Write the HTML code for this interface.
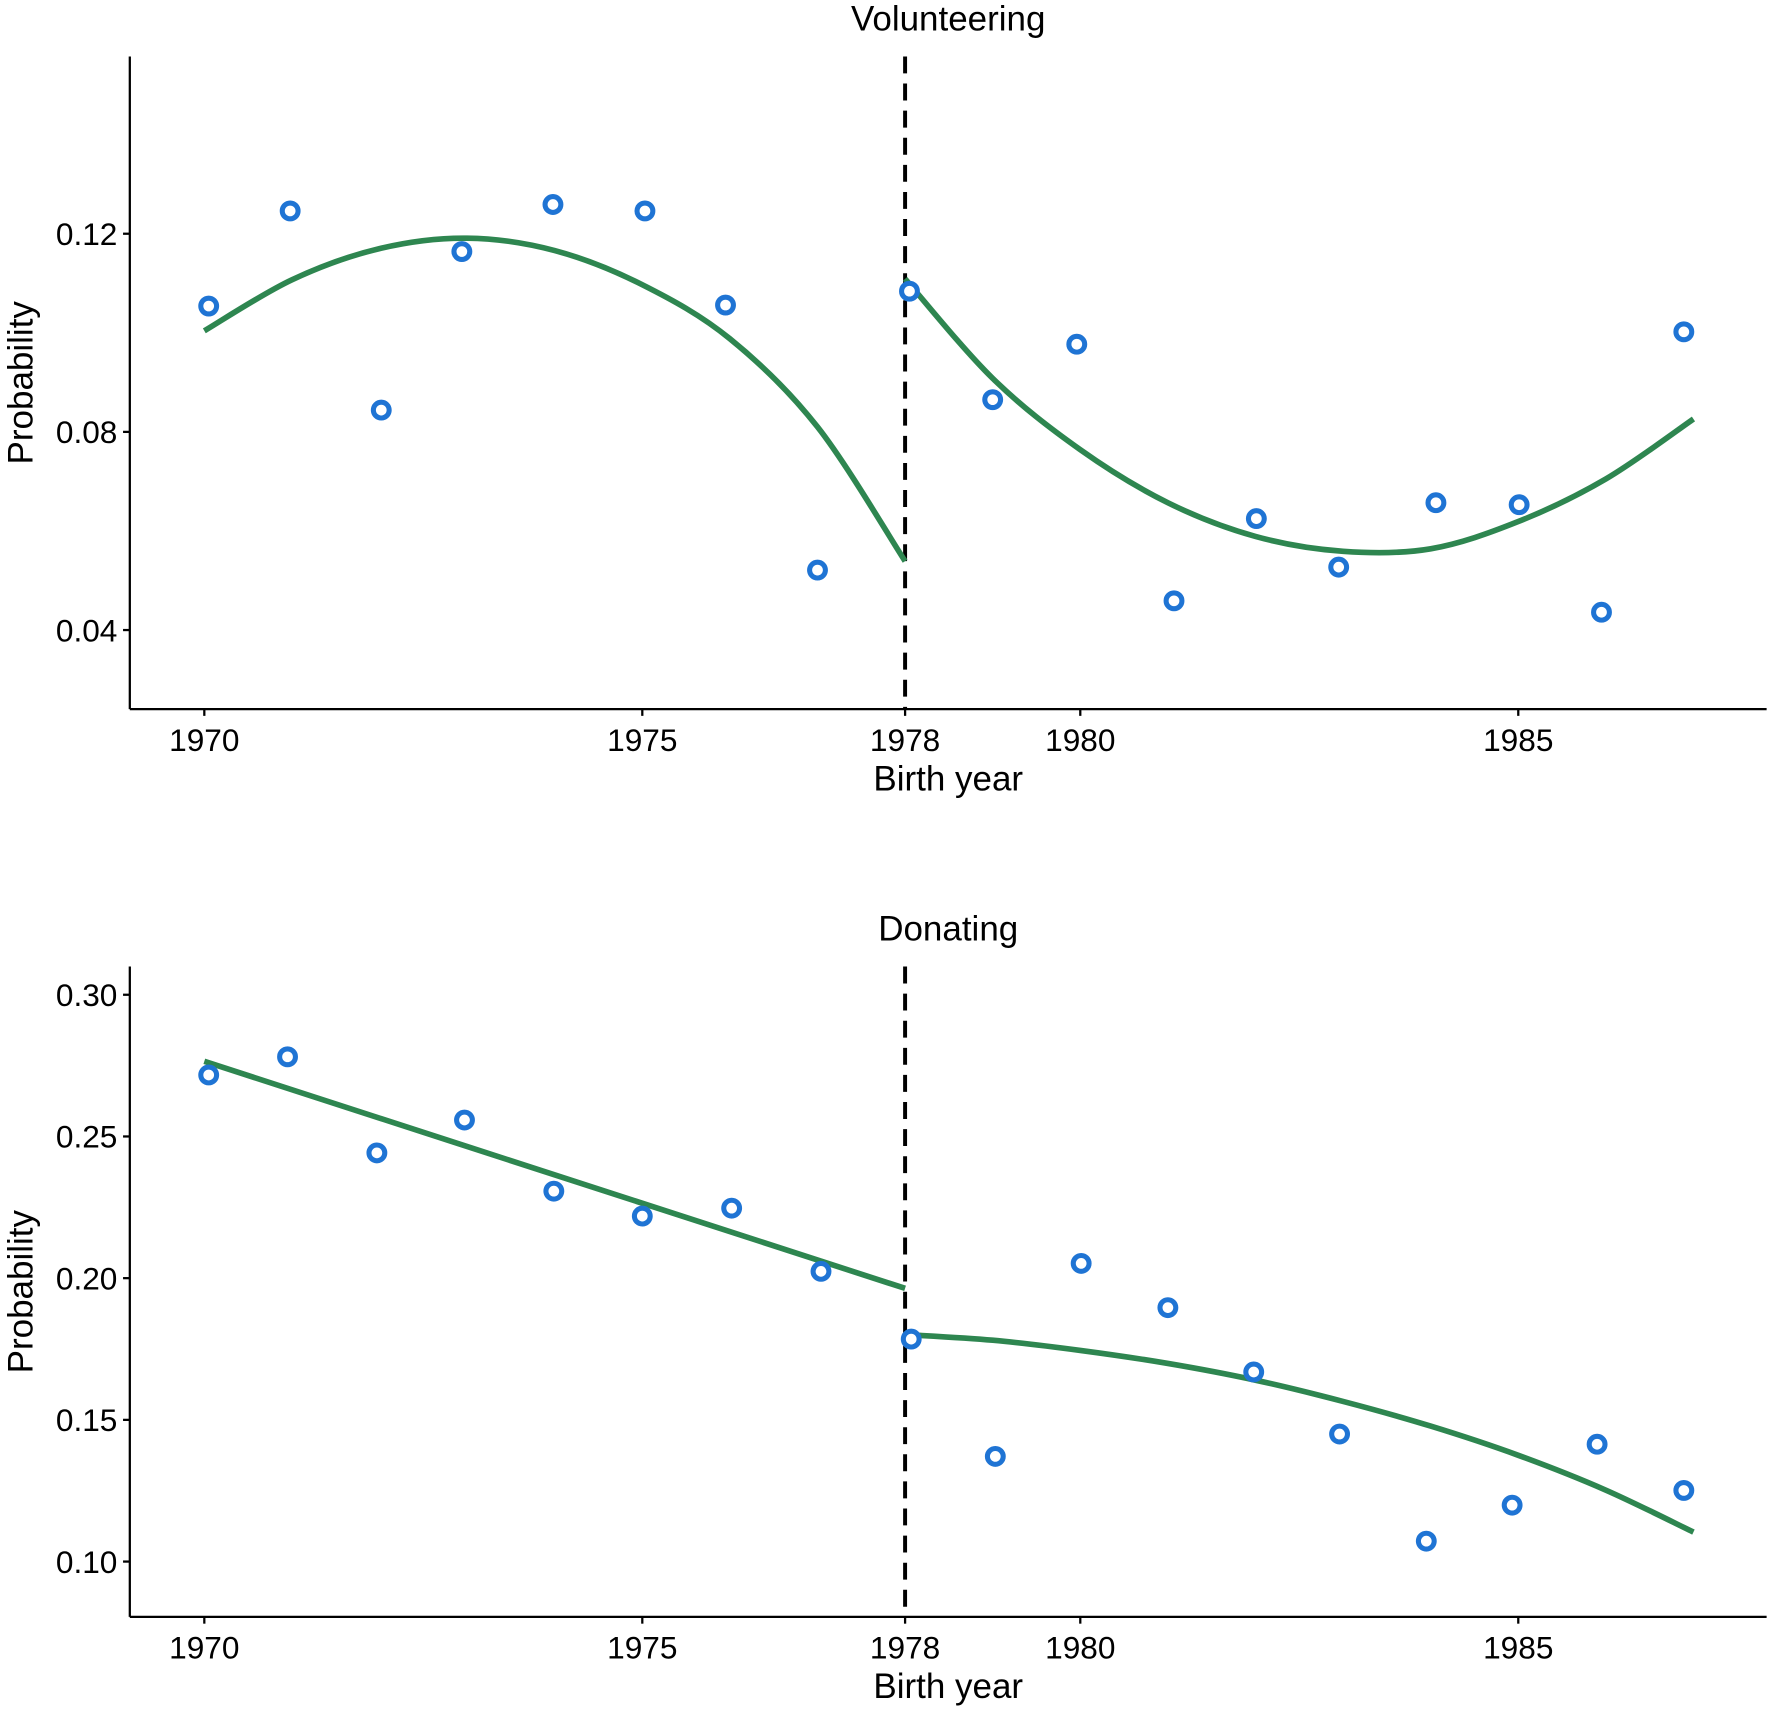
<!DOCTYPE html>
<html><head><meta charset="utf-8"><style>
html,body{margin:0;padding:0;background:#fff;}
svg{display:block;font-family:"Liberation Sans",Arial,sans-serif;}
</style></head><body>
<svg id="chart" width="1770" height="1714" viewBox="0 0 1568 1518" preserveAspectRatio="none" xmlns="http://www.w3.org/2000/svg"></svg>
<script>
// ---- Volunteering data ----
const volYears = [1970.05,1970.98,1972.02,1972.94,1973.98,1975.03,1975.95,1977.0,1978.05,1979.0,1979.96,1981.07,1982.01,1982.95,1984.06,1985.01,1985.95,1986.89];
const volValues = [0.1054,0.1246,0.0844,0.1164,0.1259,0.1246,0.1056,0.0521,0.1084,0.0865,0.0977,0.0459,0.0625,0.0527,0.0657,0.0653,0.0436,0.1002];
const volFitLeftYears = [1970,1971,1972,1973,1974,1975,1976,1977,1978];
const volFitLeftValues = [0.1004,0.1107,0.1170,0.1191,0.1166,0.1097,0.0988,0.0810,0.0539];
const volFitRightYears = [1978,1979,1980,1981,1982,1983,1984,1985,1986,1987];
const volFitRightValues = [0.1109,0.0908,0.0764,0.0657,0.0589,0.0559,0.0564,0.0619,0.0705,0.0826];
const volTicks = [0.04,0.08,0.12];
const volTickLabels = ["0.04","0.08","0.12"];
// ---- Donating data ----
const donYears = [1970.05,1970.95,1971.97,1972.97,1973.99,1975.0,1976.02,1977.04,1978.07,1979.03,1980.01,1981.0,1981.98,1982.96,1983.95,1984.93,1985.9,1986.89];
const donValues = [0.2717,0.2781,0.2442,0.2558,0.2307,0.2219,0.2247,0.2024,0.1785,0.1371,0.2052,0.1896,0.1669,0.1450,0.1072,0.1199,0.1414,0.1251];
const donFitLeftYears = [1970,1978];
const donFitLeftValues = [0.2765,0.1964];
const donFitRightYears = [1978,1979,1980,1981,1982,1983,1984,1985,1986,1987];
const donFitRightValues = [0.1801,0.1781,0.1745,0.1699,0.1640,0.1565,0.1478,0.1375,0.1252,0.1104];
const donTicks = [0.10,0.15,0.20,0.25,0.30];
const donTickLabels = ["0.10","0.15","0.20","0.25","0.30"];
const xTicks = [1970,1975,1978,1980,1985];
const xTickLabels = ["1970","1975","1978","1980","1985"];

const NS="http://www.w3.org/2000/svg";
const svg=document.getElementById('chart');
function mk(tag,attrs,parent){const e=document.createElementNS(NS,tag);for(const k in attrs)e.setAttribute(k,attrs[k]);(parent||svg).appendChild(e);return e;}
function smooth(pts){
  if(pts.length<3) return 'M'+pts.map(p=>p.join(',')).join('L');
  let d='M'+pts[0][0]+','+pts[0][1];
  for(let i=0;i<pts.length-1;i++){
    const p0=pts[Math.max(0,i-1)],p1=pts[i],p2=pts[i+1],p3=pts[Math.min(pts.length-1,i+2)];
    const c1=[p1[0]+(p2[0]-p0[0])/6,p1[1]+(p2[1]-p0[1])/6];
    const c2=[p2[0]-(p3[0]-p1[0])/6,p2[1]-(p3[1]-p1[1])/6];
    d+='C'+c1+' '+c2+' '+p2;
  }
  return d;
}
function panel(cfg){
  const g=mk('g',{});
  
  
  const xS=y=>181+(y-1970)*77.6;
  const yS=v=>cfg.y0+(cfg.v0-v)*cfg.k;
  const t=mk('text',{x:840,y:cfg.titleY,'text-anchor':'middle','font-size':31,fill:'#000'},g);
  t.textContent=cfg.title;
  
  
  const ax=mk('line',{x1:115,y1:cfg.top,x2:115,y2:cfg.bottom,stroke:'#000','stroke-width':2},g);
  
  
  const bx=mk('line',{x1:115,y1:cfg.bottom,x2:1565,y2:cfg.bottom,stroke:'#000','stroke-width':2},g);
  
  
  cfg.ticks.forEach((v,i)=>{
    const y=yS(v);
    mk('line',{x1:109,y1:y,x2:115,y2:y,stroke:'#000','stroke-width':2},g);
    const l=mk('text',{x:104,y:y+10,'text-anchor':'end','font-size':28,fill:'#000'},g);
    l.textContent=cfg.tickLabels[i];
    
    
  });
  xTicks.forEach((yr,i)=>{
    const x=xS(yr);
    mk('line',{x1:x,y1:cfg.bottom,x2:x,y2:cfg.bottom+6,stroke:'#000','stroke-width':2},g);
    const l=mk('text',{x:x,y:cfg.bottom+37,'text-anchor':'middle','font-size':28,fill:'#000'},g);
    l.textContent=xTickLabels[i];
    
    
  });
  const xt=mk('text',{x:840,y:cfg.bottom+72,'text-anchor':'middle','font-size':31,fill:'#000'},g);
  xt.textContent='Birth year';
  
  
  const cy=(cfg.top+cfg.bottom)/2;
  const yt=mk('text',{x:29,y:cy,'text-anchor':'middle','font-size':31,fill:'#000',transform:'rotate(-90 29 '+cy+')'},g);
  yt.textContent='Probability';
  
  
  const cut=mk('line',{x1:xS(1978),y1:cfg.top,x2:xS(1978),y2:cfg.bottom,stroke:'#000','stroke-width':3.5,'stroke-dasharray':'15 9'},g);
  
  
  [[cfg.lY,cfg.lV,'fit-left'],[cfg.rY,cfg.rV,'fit-right']].forEach(([ys,vs,n])=>{
    const p=mk('path',{d:smooth(ys.map((y,i)=>[xS(y),yS(vs[i])])),fill:'none',stroke:'#2e8650','stroke-width':5},g);
    
    
  });
  cfg.years.forEach((yr,i)=>{
    const c=mk('circle',{cx:xS(yr),cy:yS(cfg.values[i]),r:7,fill:'#fff',stroke:'#1f74d4','stroke-width':4.5},g);
    
    
  });
}
panel({name:'volunteering',title:'Volunteering',titleY:27,top:50,bottom:628,y0:207,v0:0.12,k:175.5/0.04,
  ticks:volTicks,tickLabels:volTickLabels,years:volYears,values:volValues,
  lY:volFitLeftYears,lV:volFitLeftValues,rY:volFitRightYears,rV:volFitRightValues});
panel({name:'donating',title:'Donating',titleY:833,top:856,bottom:1432,y0:881,v0:0.30,k:125.5/0.05,
  ticks:donTicks,tickLabels:donTickLabels,years:donYears,values:donValues,
  lY:donFitLeftYears,lV:donFitLeftValues,rY:donFitRightYears,rV:donFitRightValues});
</script>
</body></html>
